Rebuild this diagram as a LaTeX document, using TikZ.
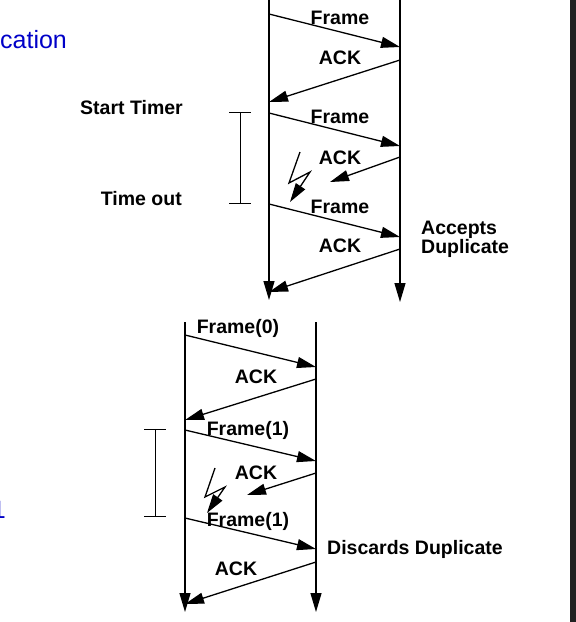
\documentclass[tikz,border=0pt]{standalone}
\usepackage{fontspec}
\setmainfont{Liberation Sans}
\usetikzlibrary{arrows.meta}
\definecolor{slideblue}{RGB}{0,0,200}

\begin{document}
\begin{tikzpicture}[x=1pt,y=-1pt,
  lbl/.style={font=\bfseries\fontsize{19.5}{19}\selectfont,inner sep=0pt},
  msg/.style={line width=1.3pt,-{Triangle[length=19pt,width=11pt]}},
  life/.style={line width=1.3pt,-{Triangle[length=19pt,width=11pt]}},
  timer/.style={line width=1pt}]
\useasboundingbox (0,0) rectangle (576,622);
\fill[white] (0,0) rectangle (576,622);
\fill[black!87] (570,0) rectangle (576,622);

% slide text cut off at the left
\node[font=\fontsize{25}{25}\selectfont,text=slideblue,anchor=west,inner sep=0pt] (title) at (0,40) {cation};
\node[font=\fontsize{25}{25}\selectfont,text=slideblue,anchor=east,inner sep=0pt] (num) at (6,510) {1};

% upper diagram: lifelines
\coordinate (sTop) at (269,0);  \coordinate (sEnd) at (269,300);
\coordinate (rTop) at (400,0);  \coordinate (rEnd) at (400,302);
\draw[life] (sTop) -- (sEnd);
\draw[life] (rTop) -- (rEnd);

\coordinate (s1) at (269,14);  \coordinate (r1) at (400,47);
\coordinate (r2) at (400,60);  \coordinate (s2) at (269,102);
\coordinate (s3) at (269,113); \coordinate (r3) at (400,146);
\coordinate (r4) at (400,157); \coordinate (lost1) at (330,182);
\coordinate (s5) at (269,204); \coordinate (r5) at (400,237);
\coordinate (r6) at (400,249); \coordinate (s6) at (269,292);

\draw[msg] (s1) -- (r1);
\draw[msg] (r2) -- (s2);
\draw[msg] (s3) -- (r3);
\draw[msg] (r4) -- (lost1);
\draw[msg] (s5) -- (r5);
\draw[msg] (r6) -- (s6);
\draw[msg] (300,152) -- (289,183) -- (310,172) -- (290,202);

\node[lbl] (f1) at (340,18) {Frame};
\node[lbl] (a1) at (340,58) {ACK};
\node[lbl] (f2) at (340,117) {Frame};
\node[lbl] (a2) at (340,158) {ACK};
\node[lbl] (f3) at (340,207) {Frame};
\node[lbl] (a3) at (340,246) {ACK};

% timer
\coordinate (tA) at (240,112); \coordinate (tB) at (240,203);
\draw[timer] (tA) -- (tB);
\draw[timer] ([xshift=-11pt]tA) -- ([xshift=11pt]tA);
\draw[timer] ([xshift=-11pt]tB) -- ([xshift=11pt]tB);
\node[lbl,anchor=east] (start) at (183,108) {Start Timer};
\node[lbl,anchor=east] (tout) at (182,199) {Time out};
\node[lbl,anchor=west,align=left] (acc) at (421,239) {Accepts\\Duplicate};

% lower diagram: lifelines
\coordinate (uTop) at (185,322); \coordinate (uEnd) at (185,612);
\coordinate (vTop) at (316,322); \coordinate (vEnd) at (316,612);
\draw[life] (uTop) -- (uEnd);
\draw[life] (vTop) -- (vEnd);

\coordinate (u1) at (185,335); \coordinate (v1) at (316,367);
\coordinate (v2) at (316,379); \coordinate (u2) at (185,420);
\coordinate (u3) at (185,430); \coordinate (v3) at (316,461);
\coordinate (v4) at (316,473); \coordinate (lost2) at (247,495);
\coordinate (u5) at (185,518); \coordinate (v5) at (316,549);
\coordinate (v6) at (316,562); \coordinate (u6) at (185,604);

\draw[msg] (u1) -- (v1);
\draw[msg] (v2) -- (u2);
\draw[msg] (u3) -- (v3);
\draw[msg] (v4) -- (lost2);
\draw[msg] (u5) -- (v5);
\draw[msg] (v6) -- (u6);
\draw[msg] (215,468) -- (205,497) -- (225,487) -- (207,513);

\node[lbl] (g1) at (238,328) {Frame(0)};
\node[lbl] (b1) at (256,377) {ACK};
\node[lbl] (g2) at (248,430) {Frame(1)};
\node[lbl] (b2) at (256,473) {ACK};
\node[lbl] (g3) at (248,521) {Frame(1)};
\node[lbl] (b3) at (236,569) {ACK};

% timer
\coordinate (tC) at (155,429); \coordinate (tD) at (155,516);
\draw[timer] (tC) -- (tD);
\draw[timer] ([xshift=-11pt]tC) -- ([xshift=11pt]tC);
\draw[timer] ([xshift=-11pt]tD) -- ([xshift=11pt]tD);
\node[lbl,anchor=west] (disc) at (327,549) {Discards Duplicate};
\end{tikzpicture}
\end{document}
